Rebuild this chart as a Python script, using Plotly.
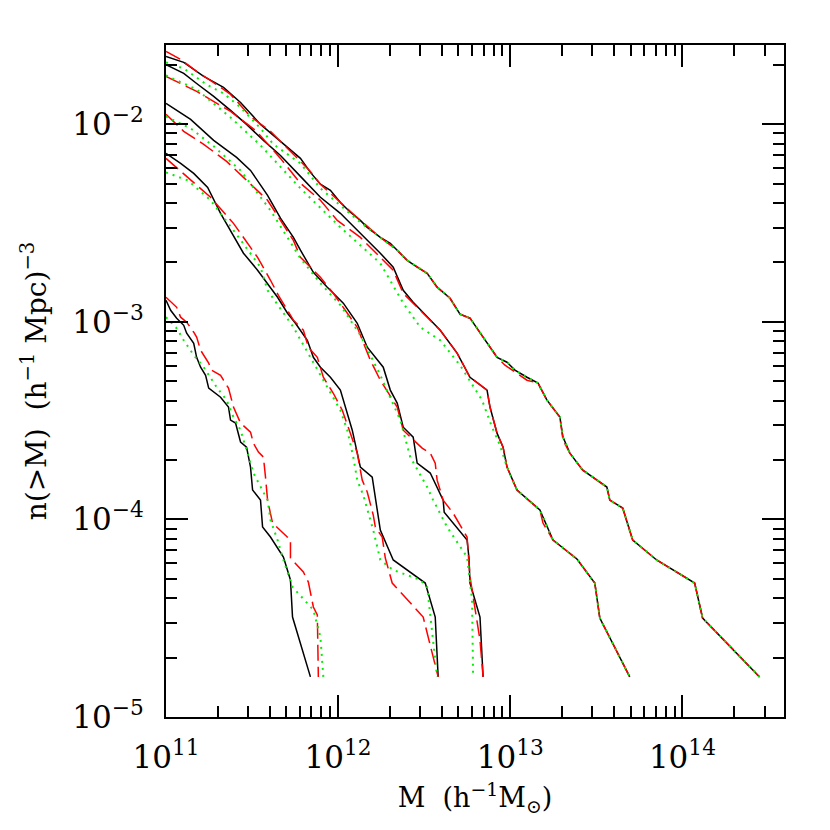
import plotly.graph_objects as go

# Values, stored as log10(M [h^-1 Msun]) and log10(n(>M) [(h^-1 Mpc)^-3])
g1_black_logM = [11.000, 11.103, 11.219, 11.334, 11.433, 11.549, 11.665, 11.781, 11.839, 11.897, 11.955, 12.013, 12.071, 12.129, 12.169, 12.245, 12.303, 12.343, 12.401, 12.459, 12.517, 12.575, 12.650, 12.708, 12.766, 12.842, 12.923, 12.981, 13.027, 13.097, 13.161, 13.213, 13.288, 13.306, 13.346, 13.421, 13.561, 13.578, 13.653, 13.711, 13.850, 14.071, 14.117, 14.448]
g1_black_logn = [-1.656, -1.686, -1.757, -1.813, -1.889, -2.000, -2.086, -2.172, -2.243, -2.303, -2.334, -2.395, -2.445, -2.486, -2.521, -2.572, -2.602, -2.637, -2.688, -2.723, -2.754, -2.824, -2.880, -2.961, -2.981, -3.077, -3.179, -3.204, -3.244, -3.280, -3.310, -3.396, -3.482, -3.583, -3.664, -3.750, -3.836, -3.902, -3.942, -4.104, -4.205, -4.322, -4.499, -4.797]

g1_red_logM = [11.000, 11.085, 11.178, 11.277, 11.375, 11.491, 11.607, 11.723, 11.839, 11.897, 12.013, 12.129, 12.245, 12.343, 12.401, 12.517, 12.575, 12.650, 12.708, 12.766, 12.842, 12.923, 12.969, 13.027, 13.097, 13.161, 13.213, 13.288, 13.306, 13.346, 13.421, 13.561, 13.578, 13.653, 13.711, 13.850, 14.071, 14.117, 14.448]
g1_red_logn = [-1.631, -1.671, -1.732, -1.788, -1.848, -1.960, -2.035, -2.137, -2.238, -2.303, -2.395, -2.486, -2.572, -2.637, -2.688, -2.754, -2.824, -2.880, -2.961, -2.981, -3.077, -3.179, -3.219, -3.254, -3.295, -3.310, -3.396, -3.482, -3.598, -3.664, -3.750, -3.836, -3.902, -3.942, -4.104, -4.205, -4.322, -4.499, -4.797]

g1_green_logM = [11.000, 11.103, 11.236, 11.334, 11.433, 11.549, 11.624, 11.781, 11.897, 12.013, 12.129, 12.245, 12.343, 12.401, 12.517, 12.575, 12.650, 12.708, 12.766, 12.842, 12.923, 12.981, 13.027, 13.097, 13.161, 13.213, 13.288, 13.306, 13.346, 13.421, 13.561, 13.578, 13.653, 13.711, 13.850, 14.071, 14.117, 14.448]
g1_green_logn = [-1.686, -1.717, -1.798, -1.843, -1.914, -2.020, -2.101, -2.197, -2.324, -2.410, -2.496, -2.572, -2.637, -2.688, -2.754, -2.824, -2.880, -2.961, -2.981, -3.077, -3.179, -3.204, -3.244, -3.280, -3.310, -3.396, -3.482, -3.583, -3.664, -3.750, -3.836, -3.902, -3.942, -4.104, -4.205, -4.322, -4.499, -4.797]

g2_black_logM = [11.000, 11.103, 11.178, 11.277, 11.375, 11.468, 11.566, 11.665, 11.781, 11.897, 12.013, 12.129, 12.245, 12.320, 12.378, 12.436, 12.517, 12.593, 12.691, 12.766, 12.865, 12.882, 12.923, 12.958, 12.981, 13.039, 13.172, 13.248, 13.387, 13.491, 13.520, 13.694]
g2_black_logn = [-1.697, -1.742, -1.793, -1.858, -1.929, -2.000, -2.081, -2.157, -2.263, -2.369, -2.450, -2.551, -2.652, -2.723, -2.840, -2.900, -2.976, -3.042, -3.158, -3.280, -3.345, -3.431, -3.563, -3.634, -3.735, -3.851, -3.952, -4.104, -4.200, -4.322, -4.499, -4.797]

g2_red_logM = [11.000, 11.178, 11.375, 11.526, 11.665, 11.781, 11.897, 11.995, 12.129, 12.262, 12.320, 12.378, 12.436, 12.517, 12.593, 12.691, 12.766, 12.865, 12.882, 12.923, 12.958, 12.981, 13.039, 13.172, 13.190, 13.248, 13.387, 13.491, 13.520, 13.694]
g2_red_logn = [-1.757, -1.833, -1.934, -2.035, -2.172, -2.298, -2.384, -2.486, -2.572, -2.688, -2.738, -2.855, -2.905, -2.976, -3.042, -3.158, -3.280, -3.345, -3.431, -3.563, -3.634, -3.735, -3.851, -3.952, -4.018, -4.104, -4.200, -4.322, -4.499, -4.797]

g2_green_logM = [11.000, 11.178, 11.375, 11.549, 11.781, 12.013, 12.245, 12.378, 12.477, 12.593, 12.708, 12.836, 12.894, 12.940, 12.981, 13.039, 13.172, 13.248, 13.387, 13.491, 13.520, 13.694]
g2_green_logn = [-1.752, -1.823, -1.965, -2.106, -2.324, -2.521, -2.703, -2.905, -3.027, -3.093, -3.219, -3.396, -3.533, -3.624, -3.735, -3.851, -3.952, -4.104, -4.200, -4.322, -4.499, -4.797]

g3_black_logM = [11.000, 11.143, 11.277, 11.410, 11.491, 11.590, 11.665, 11.740, 11.781, 11.856, 11.937, 12.030, 12.111, 12.169, 12.262, 12.303, 12.343, 12.378, 12.436, 12.459, 12.535, 12.575, 12.610, 12.616, 12.749, 12.760, 12.766, 12.824, 12.842]
g3_black_logn = [-1.894, -1.975, -2.081, -2.167, -2.233, -2.359, -2.475, -2.572, -2.637, -2.749, -2.824, -2.905, -3.007, -3.128, -3.229, -3.345, -3.411, -3.533, -3.583, -3.715, -3.765, -3.836, -3.902, -3.963, -4.104, -4.195, -4.322, -4.494, -4.797]

g3_red_logM = [11.000, 11.103, 11.219, 11.352, 11.450, 11.590, 11.740, 11.781, 11.897, 11.972, 12.111, 12.187, 12.245, 12.343, 12.378, 12.436, 12.488, 12.535, 12.564, 12.575, 12.610, 12.668, 12.749, 12.766, 12.824, 12.842]
g3_red_logn = [-1.949, -2.035, -2.101, -2.187, -2.268, -2.384, -2.587, -2.673, -2.774, -2.855, -3.027, -3.194, -3.295, -3.431, -3.548, -3.598, -3.639, -3.664, -3.715, -3.801, -3.902, -3.968, -4.089, -4.291, -4.610, -4.797]

g3_green_logM = [11.000, 11.143, 11.277, 11.433, 11.607, 11.781, 11.897, 12.013, 12.129, 12.245, 12.361, 12.419, 12.517, 12.552, 12.633, 12.749, 12.778, 12.784]
g3_green_logn = [-1.960, -2.020, -2.111, -2.233, -2.435, -2.678, -2.804, -2.915, -3.067, -3.270, -3.497, -3.684, -3.836, -3.902, -4.038, -4.190, -4.408, -4.797]

g4_black_logM = [11.000, 11.085, 11.161, 11.242, 11.317, 11.375, 11.450, 11.532, 11.607, 11.648, 11.706, 11.752, 11.821, 11.856, 11.897, 11.955, 12.013, 12.042, 12.082, 12.129, 12.198, 12.245, 12.320, 12.506, 12.564, 12.581]
g4_black_logn = [-2.147, -2.197, -2.248, -2.319, -2.450, -2.536, -2.652, -2.738, -2.830, -2.875, -2.956, -3.007, -3.093, -3.179, -3.229, -3.280, -3.345, -3.431, -3.548, -3.735, -3.786, -4.054, -4.205, -4.322, -4.494, -4.797]

g4_red_logM = [11.000, 11.126, 11.259, 11.392, 11.532, 11.607, 11.653, 11.740, 11.798, 11.827, 11.879, 11.914, 11.972, 12.024, 12.071, 12.111, 12.140, 12.169, 12.204, 12.216, 12.256, 12.274, 12.314, 12.494, 12.581]
g4_red_logn = [-2.172, -2.268, -2.369, -2.501, -2.673, -2.789, -2.865, -2.991, -3.042, -3.128, -3.179, -3.280, -3.361, -3.447, -3.563, -3.664, -3.801, -3.861, -3.978, -4.038, -4.089, -4.195, -4.322, -4.494, -4.797]

g4_green_logM = [11.000, 11.126, 11.259, 11.392, 11.549, 11.590, 11.740, 11.839, 11.937, 12.013, 12.053, 12.088, 12.111, 12.146, 12.204, 12.245, 12.320, 12.477, 12.517, 12.575]
g4_green_logn = [-2.243, -2.283, -2.384, -2.536, -2.723, -2.840, -3.027, -3.179, -3.330, -3.447, -3.548, -3.684, -3.801, -3.877, -4.054, -4.205, -4.256, -4.306, -4.342, -4.797]

g5_black_logM = [11.000, 11.027, 11.062, 11.103, 11.120, 11.161, 11.178, 11.201, 11.230, 11.248, 11.317, 11.346, 11.363, 11.375, 11.404, 11.433, 11.468, 11.491, 11.503, 11.549, 11.561, 11.607, 11.682, 11.723, 11.735, 11.839]
g5_black_logn = [-2.890, -2.941, -2.981, -3.017, -3.057, -3.108, -3.179, -3.229, -3.270, -3.335, -3.381, -3.411, -3.431, -3.497, -3.512, -3.608, -3.634, -3.735, -3.851, -3.902, -4.038, -4.089, -4.190, -4.306, -4.494, -4.797]

g5_red_logM = [11.000, 11.062, 11.085, 11.120, 11.161, 11.178, 11.201, 11.219, 11.248, 11.265, 11.317, 11.334, 11.363, 11.392, 11.404, 11.433, 11.491, 11.508, 11.537, 11.566, 11.578, 11.590, 11.619, 11.723, 11.723, 11.798, 11.827, 11.856, 11.879, 11.885]
g5_red_logn = [-2.875, -2.926, -2.976, -3.001, -3.052, -3.077, -3.143, -3.168, -3.209, -3.244, -3.270, -3.295, -3.335, -3.431, -3.457, -3.512, -3.558, -3.614, -3.659, -3.684, -3.786, -3.902, -4.018, -4.104, -4.195, -4.266, -4.317, -4.443, -4.483, -4.797]

g5_green_logM = [11.000, 11.062, 11.103, 11.161, 11.219, 11.294, 11.352, 11.392, 11.433, 11.468, 11.508, 11.590, 11.607, 11.648, 11.682, 11.735, 11.856, 11.897, 11.914]
g5_green_logn = [-2.976, -3.032, -3.093, -3.168, -3.229, -3.330, -3.396, -3.482, -3.548, -3.649, -3.765, -3.902, -4.003, -4.104, -4.205, -4.342, -4.458, -4.595, -4.797]

x_tick_exponents = [11, 12, 13, 14]
x_tick_labels = ["10<sup>11</sup>", "10<sup>12</sup>", "10<sup>13</sup>", "10<sup>14</sup>"]
y_tick_exponents = [-5, -4, -3, -2]
y_tick_labels = ["10<sup>−5</sup>", "10<sup>−4</sup>", "10<sup>−3</sup>", "10<sup>−2</sup>"]

groups = [
    (g1_black_logM, g1_black_logn, g1_red_logM, g1_red_logn, g1_green_logM, g1_green_logn),
    (g2_black_logM, g2_black_logn, g2_red_logM, g2_red_logn, g2_green_logM, g2_green_logn),
    (g3_black_logM, g3_black_logn, g3_red_logM, g3_red_logn, g3_green_logM, g3_green_logn),
    (g4_black_logM, g4_black_logn, g4_red_logM, g4_red_logn, g4_green_logM, g4_green_logn),
    (g5_black_logM, g5_black_logn, g5_red_logM, g5_red_logn, g5_green_logM, g5_green_logn),
]

def lin(vals):
    return [10 ** v for v in vals]

fig = go.Figure()
for bm, bn, rm, rn, gm, gn in groups:
    fig.add_trace(go.Scatter(x=lin(bm), y=lin(bn), mode="lines",
                             line=dict(color="black", width=1.5), showlegend=False))
    fig.add_trace(go.Scatter(x=lin(rm), y=lin(rn), mode="lines",
                             line=dict(color="#ff0000", width=1.5, dash="16px,6px"), showlegend=False))
    fig.add_trace(go.Scatter(x=lin(gm), y=lin(gn), mode="lines",
                             line=dict(color="#00f000", width=2, dash="2px,5px"), showlegend=False))

font_family = "DejaVu Serif, serif"
axis_common = dict(
    type="log",
    showgrid=False, zeroline=False,
    showline=True, linecolor="black", linewidth=2, mirror="ticks",
    ticks="inside", ticklen=22, tickwidth=1.5, tickcolor="black",
    minor=dict(ticks="inside", ticklen=11, tickwidth=1.5, tickcolor="black", dtick="D1", showgrid=False),
    tickfont=dict(family=font_family, size=31, color="black"),
)

fig.update_xaxes(**axis_common, range=[11, 14.59],
                 tickvals=[10 ** e for e in x_tick_exponents], ticktext=x_tick_labels,
                 ticklabelstandoff=12,
                 title=dict(text="M  (h<sup>−1</sup>M<sub>⊙</sub>)",
                            font=dict(family=font_family, size=27, color="black"), standoff=14))
fig.update_yaxes(**axis_common, range=[-5, -1.598],
                 tickvals=[10 ** e for e in y_tick_exponents], ticktext=y_tick_labels,
                 ticklabelstandoff=14,
                 title=dict(text="n(>M)  (h<sup>−1</sup> Mpc)<sup>−3</sup>",
                            font=dict(family=font_family, size=28, color="black"), standoff=18))

fig.update_layout(
    width=830, height=830,
    margin=dict(l=166, r=46, t=45, b=113),
    paper_bgcolor="white", plot_bgcolor="white",
    showlegend=False,
)

fig.write_html("out.html", config={"displayModeBar": False},
               post_script="document.body.style.margin='0';document.body.style.padding='0';")
